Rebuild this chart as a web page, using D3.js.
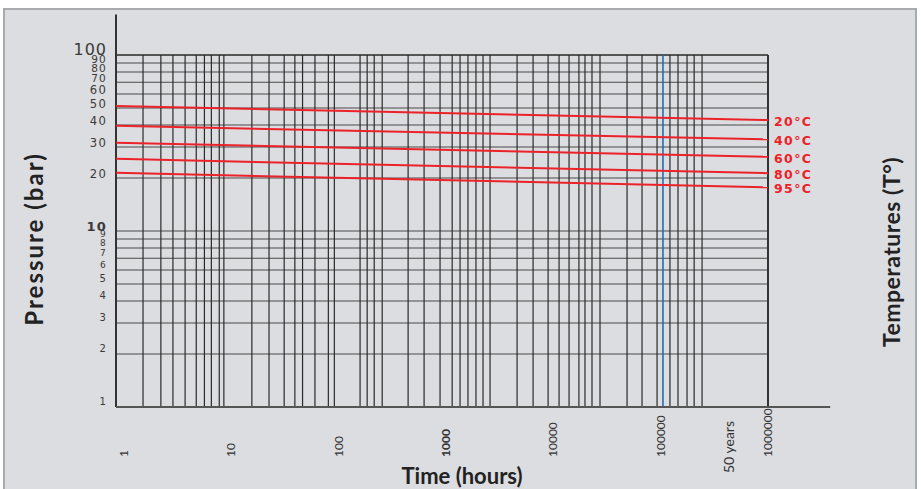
<!DOCTYPE html>
<html>
<head>
<meta charset="utf-8">
<script src="https://cdn.jsdelivr.net/npm/d3@7"></script>
<style>
  body { margin: 0; background: #fff; }
  text { font-family: Lato, "DejaVu Sans", sans-serif; }
</style>
</head>
<body>
<div id="chart"></div>
<script>
// chart values
var temps = ['20°C', '40°C', '60°C', '80°C', '95°C']
var barAtStart = [51.3, 39.6, 31.7, 25.7, 21.4]
var barAtEnd = [42.7, 33.2, 26.4, 21.3, 17.7]
var hoursStart = 0.84
var hoursEnd = 1000000
var hoursAxisEnd = 3800000
var barAxisTop = 170

var yTickValues = [1, 2, 3, 4, 5, 6, 7, 8, 9, 10, 20, 30, 40, 50, 60, 70, 80, 90, 100]
var yGridValues = [2, 3, 4, 5, 6, 7, 8, 9, 10, 20, 30, 40, 50, 60, 70, 80, 90, 100]
var xTickValues = [1, 10, 100, 1000, 10000, 100000, 1000000]
var xTickLabels = ['1', '10', '100', '1000', '10000', '100000', '1000000']
var fiftyYears = 438000
var xGridValues = [1.5, 2.2, 2.85, 3.7, 4.7, 5.6, 6.5, 7.7, 8.5,
  15.5, 22.4, 31, 39, 46, 60, 80, 91,
  158, 184, 214, 254,
  443, 624, 879, 1140, 1350, 1600, 1900, 2210, 2570,
  4590, 6470, 8930, 11300, 14000, 17300, 19700, 22900, 27200,
  48600, 67000, 92500, 122000, 145000, 176000, 205000, 243000]
var xBlueValues = [105000]

var width = 921
var height = 489

var svg = d3.select('#chart')
  .append('svg')
  .attr('width', width)
  .attr('height', height)

svg.append('rect')
  .attr('width', width)
  .attr('height', height)
  .attr('fill', '#fff')

// grey panel
svg.append('rect')
  .attr('x', 4)
  .attr('y', 9)
  .attr('width', 912)
  .attr('height', 490)
  .attr('fill', '#dcdde0')
  .attr('stroke', '#a9aaad')
  .attr('stroke-width', 2)

var x = d3.scaleLog()
  .domain([hoursStart, hoursEnd])
  .range([116, 768])

var y = d3.scaleLog()
  .domain([1, 100])
  .range([407, 55])

// horizontal grid
svg.selectAll('.hgrid')
  .data(yGridValues)
  .enter()
  .append('line')
  .attr('class', 'hgrid')
  .attr('x1', x(hoursStart))
  .attr('x2', x(hoursEnd))
  .attr('y1', d => y(d))
  .attr('y2', d => y(d))
  .style('stroke', d => d === 100 ? '#555' : '#4a4a4a')
  .style('stroke-width', d => d === 100 ? 2 : 1.1)

// vertical grid
svg.selectAll('.vgrid')
  .data(xGridValues)
  .enter()
  .append('line')
  .attr('class', 'vgrid')
  .attr('x1', d => x(d))
  .attr('x2', d => x(d))
  .attr('y1', y(100))
  .attr('y2', y(1))
  .style('stroke', '#2a2a2a')
  .style('stroke-width', 1.2)

svg.selectAll('.vblue')
  .data(xBlueValues)
  .enter()
  .append('line')
  .attr('class', 'vblue')
  .attr('x1', d => x(d))
  .attr('x2', d => x(d))
  .attr('y1', y(100))
  .attr('y2', y(1))
  .style('stroke', '#1f6db4')
  .style('stroke-width', 1.6)

// right border
svg.append('line')
  .attr('x1', x(hoursEnd))
  .attr('x2', x(hoursEnd))
  .attr('y1', y(100))
  .attr('y2', y(1))
  .style('stroke', '#333')
  .style('stroke-width', 2)

// axes lines
svg.append('line')
  .attr('x1', x(hoursStart))
  .attr('x2', x(hoursStart))
  .attr('y1', y(barAxisTop))
  .attr('y2', y(1))
  .style('stroke', '#333')
  .style('stroke-width', 2)

svg.append('line')
  .attr('x1', x(hoursStart))
  .attr('x2', x(hoursAxisEnd))
  .attr('y1', y(1))
  .attr('y2', y(1))
  .style('stroke', '#555')
  .style('stroke-width', 2)

// temperature curves
var curves = temps.map((t, i) => ({
  temp: t,
  points: [[hoursStart, barAtStart[i]], [hoursEnd, barAtEnd[i]]]
}))

var line = d3.line()
  .x(d => x(d[0]))
  .y(d => y(d[1]))

svg.selectAll('.curve')
  .data(curves)
  .enter()
  .append('path')
  .attr('class', 'curve')
  .attr('d', d => line(d.points))
  .style('fill', 'none')
  .style('stroke', '#ec2229')
  .style('stroke-width', 2)

svg.selectAll('.curve-label')
  .data(curves)
  .enter()
  .append('text')
  .attr('class', 'curve-label')
  .attr('x', x(hoursEnd) + 6)
  .attr('y', d => y(d.points[1][1]) + 6)
  .text(d => d.temp)
  .style('fill', '#ec2229')
  .style('font-family', '"DejaVu Sans", sans-serif')
  .style('font-weight', 'bold')
  .style('font-size', '12.5px')
  .style('letter-spacing', '1.4px')

// y tick labels (the crowded ones near 10 and 100 are smaller)
function yLabelSize(d) {
  if (d === 100) return '16px'
  if (d === 10) return '13px'
  if (d >= 70) return '10.5px'
  if (d > 10) return '11.6px'
  if (d >= 6) return '9px'
  return '10px'
}

svg.selectAll('.y-label')
  .data(yTickValues)
  .enter()
  .append('text')
  .attr('class', 'y-label')
  .attr('x', 107)
  .attr('y', d => d < 10 ? y(d) - 2 : y(d))
  .text(d => d)
  .style('text-anchor', 'end')
  .style('fill', '#3a3a3a')
  .style('font-family', '"DejaVu Sans", sans-serif')
  .style('font-weight', d => d === 10 ? 'bold' : 'normal')
  .style('font-size', yLabelSize)
  .style('letter-spacing', d => d === 100 ? '1px' : '1.2px')

// x tick labels
svg.selectAll('.x-label')
  .data(xTickValues)
  .enter()
  .append('text')
  .attr('class', 'x-label')
  .attr('transform', d => `translate(${x(d) + 4},457) rotate(-90)`)
  .text((d, i) => xTickLabels[i])
  .style('fill', '#333')
  .style('font-weight', d => d === 1000 ? 'bold' : 'normal')
  .style('font-size', '12px')

svg.append('text')
  .attr('transform', `translate(${x(fiftyYears) + 4},473) rotate(-90)`)
  .text('50 years')
  .style('fill', '#333')
  .style('font-size', '14px')

// axis titles
svg.append('text')
  .attr('x', 462)
  .attr('y', 484)
  .text('Time (hours)')
  .style('text-anchor', 'middle')
  .style('fill', '#222')
  .style('font-weight', 'bold')
  .style('font-size', '22px')

svg.append('text')
  .attr('transform', 'translate(43,239) rotate(-90)')
  .text('Pressure (bar)')
  .style('text-anchor', 'middle')
  .style('fill', '#222')
  .style('font-weight', 'bold')
  .style('font-size', '24px')
  .style('letter-spacing', '2px')

svg.append('text')
  .attr('transform', 'translate(900,252) rotate(-90)')
  .text('Temperatures (T°)')
  .style('text-anchor', 'middle')
  .style('fill', '#222')
  .style('font-weight', 'bold')
  .style('font-size', '23px')
  .style('letter-spacing', '0.5px')
</script>
</body>
</html>
